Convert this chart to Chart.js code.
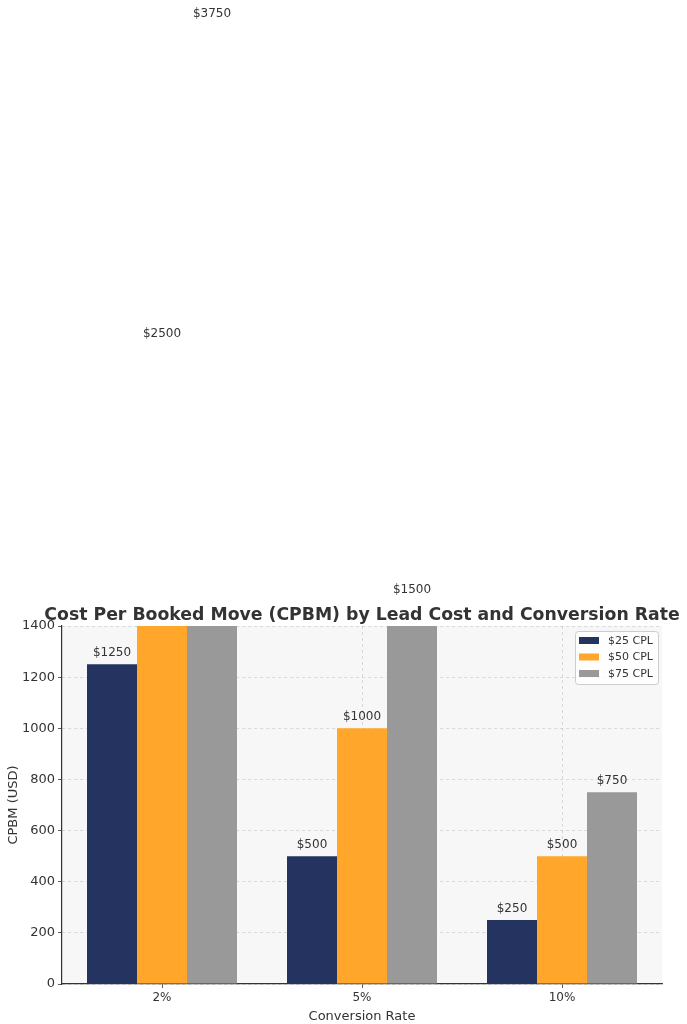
<!DOCTYPE html>
<html>
<head>
<meta charset="utf-8">
<script src="https://cdn.jsdelivr.net/npm/chart.js@4.4.1/dist/chart.umd.min.js"></script>
<style>
  html, body { margin: 0; padding: 0; background: #fff; }
  #wrap { width: 687px; height: 1024px; position: relative; }
</style>
</head>
<body>
<div id="wrap"><canvas id="chart"></canvas></div>
<script>
const rates = ['2%', '5%', '10%'];
const seriesNames = ['$25 CPL', '$50 CPL', '$75 CPL'];
const cpl25 = [1250, 500, 250];
const cpl50 = [2500, 1000, 500];
const cpl75 = [3750, 1500, 750];
const yTicks = [0, 200, 400, 600, 800, 1000, 1200, 1400];
const chartTitle = 'Cost Per Booked Move (CPBM) by Lead Cost and Conversion Rate';

const colors = ['#243360', '#ffa62b', '#999999'];
const FONT = '"DejaVu Sans", sans-serif';
const INK = '#333333';

// light grey panel behind the bars
const panelBg = {
  id: 'panelBg',
  beforeDraw(chart) {
    const { ctx, chartArea: a } = chart;
    ctx.save();
    ctx.fillStyle = '#f7f7f7';
    ctx.fillRect(a.left, a.top, a.right - a.left, a.bottom - a.top);
    ctx.restore();
  }
};

// title centred over the plot, allowed to run wider than it
const plotTitle = {
  id: 'plotTitle',
  afterDraw(chart) {
    const { ctx, chartArea: a } = chart;
    ctx.save();
    ctx.font = 'bold 17.3px ' + FONT;
    ctx.fillStyle = INK;
    ctx.textAlign = 'center';
    ctx.textBaseline = 'middle';
    ctx.fillText(chartTitle, (a.left + a.right) / 2, a.top - 10);
    ctx.restore();
  }
};

// value labels, drawn even when the bar runs past the axis limit
const valueLabels = {
  id: 'valueLabels',
  afterDraw(chart) {
    const { ctx } = chart;
    const y = chart.scales.y;
    ctx.save();
    ctx.font = '12px ' + FONT;
    ctx.fillStyle = INK;
    ctx.textAlign = 'center';
    ctx.textBaseline = 'bottom';
    chart.data.datasets.forEach((ds, i) => {
      chart.getDatasetMeta(i).data.forEach((bar, j) => {
        const v = ds.data[j];
        ctx.fillText('$' + v, bar.x, y.getPixelForValue(v) - 5);
      });
    });
    ctx.restore();
  }
};

// boxed legend in the upper right of the plot
const boxLegend = {
  id: 'boxLegend',
  afterDraw(chart) {
    const { ctx, chartArea: a } = chart;
    const w = 83, h = 53;
    const x0 = a.right - w - 4, y0 = a.top + 5;
    ctx.save();
    ctx.fillStyle = 'rgba(255,255,255,0.8)';
    ctx.strokeStyle = '#cccccc';
    ctx.lineWidth = 1;
    ctx.beginPath();
    ctx.roundRect(x0 + 0.5, y0 + 0.5, w, h, 3);
    ctx.fill();
    ctx.stroke();
    ctx.font = '11px ' + FONT;
    ctx.textBaseline = 'middle';
    chart.data.datasets.forEach((ds, i) => {
      const cy = y0 + 10 + i * 16.5;
      ctx.fillStyle = ds.backgroundColor;
      ctx.fillRect(x0 + 4, cy - 4, 20, 7);
      ctx.fillStyle = INK;
      ctx.fillText(ds.label, x0 + 33, cy);
    });
    ctx.restore();
  }
};

const gridStyle = {
  color: 'rgba(180,180,180,0.6)',
  lineWidth: 0.8,
  tickColor: INK,
  tickLength: 4,
  tickBorderDash: []
};
const axisBorder = { color: INK, width: 1.2, dash: [3, 3] };

new Chart(document.getElementById('chart'), {
  type: 'bar',
  data: {
    labels: rates,
    datasets: [cpl25, cpl50, cpl75].map((d, i) => ({
      label: seriesNames[i],
      data: d,
      backgroundColor: colors[i],
      borderWidth: 0,
      barPercentage: 1,
      categoryPercentage: 0.75
    }))
  },
  options: {
    responsive: true,
    maintainAspectRatio: false,
    animation: false,
    layout: { padding: { left: 0, right: 25, top: 626, bottom: 0 } },
    plugins: {
      legend: { display: false },
      tooltip: { enabled: false },
      title: { display: false }
    },
    scales: {
      x: {
        z: 1,
        grid: Object.assign({ offset: false }, gridStyle),
        border: axisBorder,
        ticks: { color: INK, font: { family: FONT, size: 12 }, padding: 3 },
        title: {
          display: true, text: 'Conversion Rate', color: INK,
          font: { family: FONT, size: 13 }, padding: { top: 0, bottom: 0 }
        },
        afterFit(s) { s.height = 40; }
      },
      y: {
        z: 1,
        min: 0,
        max: 1400,
        afterBuildTicks(s) { s.ticks = yTicks.map(v => ({ value: v })); },
        grid: gridStyle,
        border: axisBorder,
        ticks: {
          color: INK, font: { family: FONT, size: 13 }, padding: 3,
          callback: v => String(v)
        },
        title: {
          display: true, text: 'CPBM (USD)', color: INK,
          font: { family: FONT, size: 13 }, padding: { top: 6, bottom: 4 }
        },
        afterFit(s) { s.width = 62; }
      }
    }
  },
  plugins: [panelBg, valueLabels, boxLegend, plotTitle]
});
</script>
</body>
</html>
